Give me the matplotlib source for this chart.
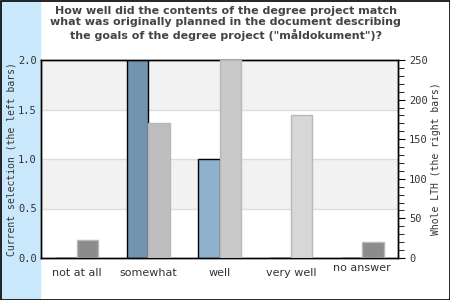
import matplotlib
matplotlib.use("Agg")
import matplotlib.pyplot as plt
from matplotlib.patches import Rectangle
from matplotlib.ticker import MultipleLocator

categories = ["not at all", "somewhat", "well", "very well", "no answer"]
current = [0, 2, 1, 0, 0]
whole_lth = [23, 170, 250, 181, 20]

left_colors = ["#7294af", "#7294af", "#8fb1cc", "#8fb1cc", "#8fb1cc"]
right_colors = ["#8c8c8c", "#bebebe", "#c9c9c9", "#d7d7d7", "#8c8c8c"]

title = ('How well did the contents of the degree project match\n'
         'what was originally planned in the document describing\n'
         'the goals of the degree project ("måldokument")?')

fig = plt.figure(figsize=(4.5, 3), dpi=100)

# light blue strip on the left and the black frame
fig.patches.append(Rectangle((0, 0), 40 / 450, 1, transform=fig.transFigure,
                             color="#cae8fc", zorder=-1))
fig.patches.append(Rectangle((0.5 / 450, 0.5 / 300), 449 / 450, 299 / 300,
                             transform=fig.transFigure, fill=False,
                             edgecolor="black", lw=1.2, zorder=5))

ax = fig.add_axes([41 / 450, 42 / 300, 357 / 450, 198 / 300])
ax2 = ax.twinx()

x = list(range(len(categories)))
w = 0.3

# alternating background bands
for lo in [0.5, 1.5]:
    ax.axhspan(lo, lo + 0.5, color="#f2f2f2", zorder=0, lw=0)
for g in [0.5, 1.0, 1.5]:
    ax.axhline(g, color="#dddddd", lw=1, zorder=0.5)

ax.bar(x, current, width=-w, align="edge", color=left_colors,
       edgecolor="black", linewidth=1, zorder=3)
ax2.bar(x, whole_lth, width=w, align="edge", color=right_colors,
        edgecolor="#b8b8b8", linewidth=1, zorder=3)

ax.set_xlim(-0.5, len(categories) - 0.5)
ax.set_ylim(0, 2)
ax2.set_ylim(0, 250)

ax.set_xticks(x)
ax.set_xticklabels(categories, fontsize=8, color="#333333")
ax.tick_params(axis="x", length=0, pad=7)
ax.get_xticklabels()[-1].set_y(0.025)

ax.yaxis.set_major_locator(MultipleLocator(0.5))
ax.set_yticklabels([f"{v:.1f}" for v in ax.get_yticks()],
                   family="DejaVu Sans Mono", fontsize=7.5, color="#333333")
ax.tick_params(axis="y", length=0, pad=3)

ax2.yaxis.set_major_locator(MultipleLocator(50))
ax2.yaxis.set_minor_locator(MultipleLocator(10))
for lab in ax2.get_yticklabels():
    lab.set_family("DejaVu Sans Mono")
ax2.tick_params(axis="y", which="major", length=5, labelsize=7.5,
                labelcolor="#333333", pad=3)
ax2.tick_params(axis="y", which="minor", length=4)

ax.set_ylabel("Current selection (the left bars)", family="DejaVu Sans Mono",
              fontsize=7, color="#333333", labelpad=1)
ax2.set_ylabel("Whole LTH (the right bars)", family="DejaVu Sans Mono",
               fontsize=7, color="#333333", labelpad=2)

for ax_ in (ax, ax2):
    for s in ax_.spines.values():
        s.set_color("black")
        s.set_linewidth(1)

fig.text(0.502, 1 - 6 / 300, title, ha="center", va="top",
         fontsize=8, fontweight="bold", color="#444444", linespacing=1.15)

fig.savefig("out.png", dpi=100)
